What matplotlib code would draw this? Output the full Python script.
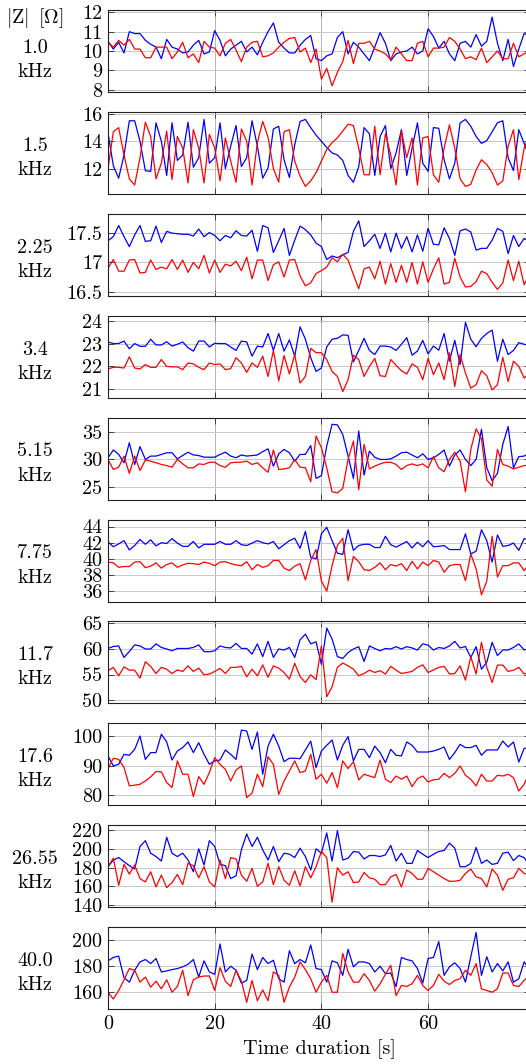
"""Impedance magnitude |Z| over time at ten excitation frequencies (two electrodes)."""
import numpy as np
import matplotlib
matplotlib.use("Agg")
import matplotlib.pyplot as plt

freq_labels = ["1.0", "1.5", "2.25", "3.4", "5.15", "7.75", "11.7", "17.6", "26.55", "40.0"]

blue_1k0 = [10.5, 10.1, 10.45, 9.9, 11.0, 10.9, 10.9, 10.55, 10.35, 10.2,
            9.6, 10.6, 10.2, 10.1, 9.9, 9.95, 10.3, 10.55, 9.85, 9.95,
            11.05, 10.55, 9.75, 10.1, 10.3, 10.5, 9.95, 10.2, 9.8, 10.45,
            11.0, 11.45, 10.45, 10.15, 9.9, 9.9, 10.3, 10.6, 10.8, 9.6,
            9.5, 9.75, 9.85, 10.7, 11.0, 9.85, 10.45, 10.2, 9.85, 9.5,
            10.2, 10.95, 10.4, 9.5, 9.85, 9.95, 10.0, 10.2, 9.85, 10.0,
            11.15, 10.75, 10.15, 10.5, 9.85, 9.5, 10.4, 10.5, 10.2, 10.85,
            10.25, 10.5, 11.75, 10.4, 9.5, 10.6, 9.2, 10.1, 10.9, 10.8]
red_1k0 = [10.45, 10.2, 10.55, 10.3, 10.6, 10.1, 10.1, 9.65, 9.65, 10.2,
           10.2, 10.2, 9.6, 9.95, 10.45, 9.65, 9.85, 9.4, 10.5, 10.2,
           10.15, 9.75, 10.4, 10.6, 10.05, 9.45, 10.2, 10.45, 10.5, 9.7,
           9.75, 9.9, 10.2, 10.45, 10.65, 10.7, 9.95, 10.15, 9.4, 10.1,
           8.55, 9.1, 8.2, 8.9, 9.45, 10.55, 9.35, 10.4, 10.4, 10.5,
           10.1, 10.0, 9.85, 9.55, 10.2, 9.85, 9.5, 9.5, 10.4, 10.5,
           9.7, 10.15, 10.15, 10.2, 10.7, 10.5, 10.1, 9.6, 9.7, 9.55,
           10.15, 9.4, 9.7, 10.0, 9.6, 9.6, 10.4, 9.7, 9.85, 10.0]

blue_1k5 = [14.6, 12.2, 11.3, 13.0, 15.5, 15.5, 14.0, 11.85, 11.8, 15.35,
            14.0, 11.5, 15.35, 12.6, 13.0, 15.4, 12.1, 12.8, 15.6, 12.4,
            12.8, 15.35, 12.0, 13.65, 15.15, 12.15, 12.8, 15.5, 13.65, 11.3,
            12.05, 14.9, 15.1, 12.65, 11.35, 13.75, 15.45, 15.6, 15.0, 14.45,
            14.0, 13.55, 13.15, 13.0, 12.6, 11.5, 11.0, 12.15, 15.0, 14.55,
            11.5, 14.35, 15.15, 12.0, 13.15, 14.85, 11.5, 13.5, 15.35, 12.4,
            11.8, 15.0, 14.95, 12.65, 11.25, 12.4, 15.35, 15.6, 15.1, 14.35,
            13.85, 14.05, 14.7, 15.35, 15.5, 12.8, 11.85, 14.85, 13.85, 12.8]
red_1k5 = [12.0, 14.7, 15.0, 13.0, 11.25, 10.8, 12.8, 15.4, 14.35, 11.25,
           12.4, 14.75, 11.2, 14.35, 13.5, 10.95, 14.85, 13.5, 10.95, 14.5,
           13.5, 11.1, 14.25, 12.55, 11.0, 14.9, 14.0, 10.8, 13.9, 15.45,
           14.3, 12.0, 11.0, 14.7, 14.85, 12.55, 11.45, 10.7, 11.1, 11.7,
           12.55, 13.4, 13.9, 14.25, 14.75, 15.25, 15.15, 13.5, 11.55, 11.55,
           15.1, 11.55, 14.55, 13.0, 10.8, 14.75, 12.8, 14.25, 10.8, 14.25,
           14.35, 11.55, 11.0, 13.5, 15.2, 13.5, 11.25, 10.7, 10.85, 11.9,
           12.65, 12.3, 11.7, 10.8, 11.1, 13.65, 14.85, 11.2, 13.5, 14.5]

blue_2k25 = [17.37, 17.44, 17.63, 17.44, 17.27, 17.47, 17.63, 17.36, 17.37, 17.62,
             17.34, 17.53, 17.5, 17.49, 17.48, 17.48, 17.45, 17.57, 17.44, 17.51,
             17.46, 17.37, 17.46, 17.42, 17.54, 17.46, 17.45, 17.55, 17.19, 17.63,
             17.59, 17.17, 17.37, 17.58, 17.12, 17.38, 17.62, 17.56, 17.47, 17.33,
             17.27, 17.05, 17.11, 17.08, 17.13, 17.17, 17.53, 17.71, 17.27, 17.37,
             17.48, 17.24, 17.5, 17.18, 17.5, 17.24, 17.44, 17.18, 17.47, 17.19,
             17.58, 17.31, 17.3, 17.59, 17.41, 17.12, 17.54, 17.57, 17.52, 17.21,
             17.24, 17.24, 17.38, 17.58, 17.53, 17.15, 17.46, 17.27, 17.41, 17.35]
red_2k25 = [16.9, 17.05, 16.85, 16.85, 17.04, 17.05, 16.82, 16.83, 17.04, 16.88,
            16.92, 16.89, 17.05, 16.88, 17.04, 16.83, 17.0, 16.89, 17.12, 16.82,
            17.04, 16.83, 16.97, 16.94, 17.02, 16.86, 17.09, 16.72, 17.04, 17.04,
            16.69, 16.96, 17.01, 16.75, 17.04, 17.05, 16.77, 16.6, 16.65, 16.81,
            16.86, 16.92, 17.08, 17.01, 17.14, 17.04, 16.79, 16.55, 16.89, 16.92,
            16.72, 17.02, 16.63, 16.98, 16.66, 16.95, 16.66, 17.0, 16.63, 17.01,
            16.66, 16.89, 17.08, 16.63, 16.66, 17.07, 16.75, 16.58, 16.59, 16.67,
            16.85, 16.81, 16.66, 16.54, 16.65, 17.04, 16.69, 17.02, 16.62, 16.8]

blue_3k4 = [23.07, 23.0, 23.0, 23.11, 22.77, 23.0, 22.88, 22.88, 23.19, 22.94,
            22.94, 23.08, 22.89, 22.97, 23.07, 22.82, 22.67, 23.11, 23.11, 22.85,
            23.01, 23.0, 23.0, 22.85, 22.7, 23.11, 23.07, 22.45, 22.89, 22.85,
            23.44, 22.7, 23.44, 22.67, 23.16, 22.45, 23.73, 23.19, 22.38, 21.78,
            21.93, 22.85, 23.19, 23.23, 23.38, 23.36, 22.2, 22.7, 23.23, 22.7,
            22.52, 22.89, 22.89, 22.85, 22.7, 22.97, 23.26, 22.49, 22.67, 23.14,
            22.55, 22.89, 22.71, 23.44, 22.23, 23.14, 22.08, 23.93, 23.19, 22.86,
            23.23, 23.44, 23.59, 22.23, 23.19, 22.52, 22.7, 23.04, 22.97, 22.9]
red_3k4 = [21.89, 21.96, 21.96, 21.93, 22.42, 21.93, 21.89, 22.08, 21.96, 21.96,
           22.3, 22.0, 21.98, 21.98, 21.86, 22.15, 22.11, 21.96, 21.86, 22.15,
           22.08, 22.11, 21.86, 21.9, 22.38, 22.15, 21.74, 22.15, 21.96, 22.45,
           21.56, 22.7, 21.37, 22.48, 21.67, 22.52, 21.27, 21.56, 22.79, 22.6,
           22.6, 22.3, 21.78, 21.56, 20.9, 21.42, 22.49, 22.3, 21.56, 22.0,
           22.35, 21.59, 21.56, 22.3, 22.05, 21.81, 21.67, 22.11, 21.96, 21.42,
           22.35, 21.64, 22.15, 21.42, 22.6, 21.12, 22.52, 21.71, 21.05, 21.2,
           21.81, 21.59, 20.97, 21.2, 22.4, 21.34, 22.23, 22.0, 21.49, 21.7]

blue_5k15 = [30.3, 31.7, 30.9, 29.4, 33.0, 29.1, 32.3, 30.0, 30.6, 30.6,
             30.9, 31.2, 31.2, 30.1, 30.7, 31.3, 30.8, 30.7, 30.4, 30.4,
             30.4, 30.9, 31.3, 30.6, 30.3, 30.8, 30.6, 30.7, 30.8, 31.4,
             31.9, 28.8, 31.0, 31.8, 31.2, 29.7, 30.9, 30.9, 32.5, 26.6,
             27.1, 32.4, 36.3, 36.2, 34.5, 30.6, 26.6, 35.1, 27.2, 31.5,
             30.4, 30.0, 30.0, 30.1, 30.6, 31.2, 31.3, 30.8, 30.3, 31.0,
             30.0, 30.3, 30.9, 31.7, 28.8, 30.8, 31.7, 30.0, 28.9, 30.0,
             35.4, 28.5, 26.2, 27.5, 32.7, 35.9, 28.5, 30.5, 30.6, 31.2]
red_5k15 = [30.0, 28.2, 28.6, 30.6, 27.5, 30.6, 28.0, 29.9, 29.7, 29.4,
            29.1, 28.9, 28.6, 30.0, 29.2, 28.5, 28.5, 29.2, 29.1, 29.5,
            29.5, 28.9, 28.6, 29.4, 29.5, 29.5, 29.7, 29.1, 29.4, 28.5,
            27.7, 31.7, 28.2, 28.3, 28.5, 30.0, 28.6, 28.5, 26.0, 34.2,
            32.1, 28.5, 24.2, 24.0, 24.8, 30.0, 33.3, 24.6, 32.7, 28.3,
            28.8, 29.2, 29.5, 29.5, 29.1, 28.2, 28.9, 29.2, 28.9, 29.2,
            28.5, 30.5, 28.5, 27.8, 30.0, 31.3, 29.7, 24.2, 31.8, 35.5,
            33.7, 26.3, 25.2, 31.8, 29.1, 28.8, 28.3, 28.6, 28.9, 29.0]

blue_7k75 = [42.1, 41.5, 41.85, 42.25, 41.1, 41.65, 42.4, 41.8, 42.35, 41.6,
             42.0, 41.9, 42.5, 41.95, 41.55, 41.55, 42.15, 41.35, 41.8, 41.8,
             41.8, 42.15, 41.8, 41.8, 42.25, 41.75, 41.65, 41.95, 42.25, 42.0,
             41.85, 42.15, 41.25, 41.75, 42.25, 42.55, 41.3, 43.4, 40.2, 40.0,
             43.1, 43.9, 42.25, 40.7, 40.55, 43.6, 41.05, 41.65, 41.8, 41.8,
             41.4, 41.4, 42.8, 41.75, 41.45, 41.8, 42.15, 41.35, 42.05, 41.5,
             42.25, 41.5, 41.55, 41.65, 41.15, 41.15, 41.15, 43.1, 40.6, 40.95,
             43.6, 42.25, 39.6, 42.95, 41.55, 41.65, 41.95, 41.05, 42.5, 42.3]
red_7k75 = [39.6, 39.5, 38.95, 39.05, 39.05, 39.6, 39.65, 38.9, 39.1, 39.5,
            38.85, 39.3, 39.5, 38.95, 39.25, 39.45, 39.4, 39.3, 39.6, 39.45,
            39.15, 39.6, 39.65, 39.4, 39.25, 39.15, 39.65, 38.65, 39.3, 38.95,
            39.15, 39.8, 39.8, 38.85, 38.55, 39.1, 39.4, 37.4, 39.8, 41.15,
            37.25, 36.0, 39.15, 41.65, 42.55, 37.3, 40.3, 39.65, 38.65, 38.55,
            38.95, 39.5, 38.65, 39.3, 39.1, 39.4, 38.55, 39.7, 38.75, 39.6,
            39.15, 39.8, 39.6, 38.35, 39.15, 39.3, 39.3, 37.3, 40.6, 38.75,
            35.55, 37.25, 42.8, 37.75, 39.15, 39.15, 39.5, 39.5, 38.55, 39.4]

blue_11k7 = [60.1, 60.5, 60.6, 58.35, 59.5, 60.8, 60.6, 60.0, 60.0, 61.0,
             60.3, 60.0, 59.65, 60.1, 60.1, 60.1, 60.3, 60.8, 59.5, 59.45,
             59.65, 60.6, 60.3, 60.2, 61.1, 60.1, 60.1, 59.0, 61.0, 58.5,
             61.5, 58.35, 60.0, 59.8, 60.3, 58.35, 61.8, 62.9, 61.0, 61.4,
             57.0, 64.1, 61.95, 58.5, 58.15, 59.3, 60.0, 60.45, 57.55, 60.6,
             60.1, 59.65, 60.1, 60.0, 60.45, 60.0, 60.45, 60.2, 59.8, 61.0,
             60.75, 59.8, 60.3, 60.1, 60.6, 61.5, 60.2, 60.5, 58.35, 60.45,
             56.05, 57.4, 61.3, 58.7, 59.8, 59.8, 60.3, 61.0, 59.8, 60.2]
red_11k7 = [55.75, 56.4, 54.75, 56.5, 55.85, 55.85, 54.3, 57.5, 56.6, 55.2,
            56.4, 56.05, 55.2, 55.9, 55.6, 56.7, 55.6, 56.25, 54.95, 55.1,
            55.6, 56.2, 55.2, 56.4, 56.4, 56.6, 54.55, 56.05, 54.75, 56.9,
            54.45, 56.7, 56.25, 55.4, 54.1, 57.2, 54.6, 53.45, 54.95, 54.0,
            60.6, 50.65, 52.6, 56.4, 57.25, 56.7, 56.05, 54.75, 55.2, 55.85,
            55.4, 55.75, 55.1, 56.6, 55.85, 55.2, 55.4, 55.6, 56.4, 56.9,
            55.4, 55.9, 56.4, 56.6, 55.1, 55.2, 56.7, 53.9, 58.5, 55.1,
            61.3, 56.4, 53.45, 56.85, 56.85, 55.6, 55.85, 56.4, 55.1, 55.5]

blue_17k6 = [93.3, 89.9, 90.45, 93.8, 93.5, 95.5, 100.0, 92.1, 94.4, 94.4,
             100.6, 98.0, 91.9, 94.95, 96.1, 98.0, 94.4, 97.75, 93.8, 90.45,
             91.6, 91.9, 95.3, 93.8, 92.1, 102.0, 101.7, 95.5, 101.35, 87.1,
             96.6, 100.6, 96.6, 91.35, 92.5, 92.5, 92.35, 95.3, 98.3, 89.35,
             94.95, 96.85, 98.65, 91.9, 96.85, 99.8, 91.6, 95.5, 95.5, 92.7,
             96.6, 94.4, 91.0, 95.5, 93.5, 93.3, 98.0, 96.85, 94.6, 94.6,
             94.6, 94.95, 95.5, 96.3, 92.1, 94.4, 97.2, 96.1, 96.1, 96.85,
             93.5, 95.3, 95.3, 95.3, 98.3, 96.3, 98.0, 91.2, 95.85, 96.0]
red_17k6 = [89.0, 92.5, 92.1, 89.35, 83.15, 83.4, 83.7, 84.8, 86.2, 88.0,
            87.9, 84.3, 82.6, 91.6, 87.1, 87.1, 79.55, 86.3, 83.7, 87.65,
            92.7, 90.45, 88.75, 84.8, 88.5, 89.9, 79.2, 80.7, 87.1, 82.9,
            93.0, 90.45, 80.3, 84.8, 88.2, 91.6, 87.65, 88.2, 93.8, 85.4,
            87.1, 84.05, 87.65, 82.6, 91.6, 89.0, 91.35, 85.2, 87.1, 86.5,
            85.95, 91.9, 85.4, 84.3, 86.5, 85.4, 86.5, 82.9, 85.6, 86.5,
            84.5, 85.2, 85.4, 87.4, 85.95, 87.4, 89.9, 86.75, 85.4, 83.15,
            87.1, 84.8, 84.8, 86.75, 86.5, 87.1, 85.95, 81.45, 83.7, 87.65]

blue_26k55 = [180.9, 188.1, 190.7, 186.3, 182.0, 178.4, 202.6, 208.8, 195.4, 191.8,
              187.0, 212.4, 195.4, 191.8, 195.4, 188.1, 175.5, 200.1, 182.7, 208.8,
              202.6, 183.4, 182.0, 168.2, 171.1, 199.0, 216.0, 202.6, 212.4, 199.0,
              188.1, 202.6, 186.3, 195.4, 194.3, 190.7, 200.8, 191.8, 177.3, 200.1,
              195.4, 217.1, 187.0, 219.6, 188.1, 190.0, 197.2, 196.5, 189.2, 192.9,
              192.9, 191.8, 193.6, 203.7, 187.0, 195.4, 184.5, 184.5, 198.3, 194.3,
              190.7, 194.3, 197.2, 198.3, 206.2, 200.8, 180.9, 180.9, 184.5, 201.5,
              184.5, 188.1, 183.4, 184.5, 195.4, 196.5, 187.4, 192.9, 190.7, 182.0]
red_26k55 = [180.9, 190.0, 161.0, 183.4, 172.9, 182.7, 168.2, 164.6, 175.5, 159.2,
             171.9, 158.5, 163.9, 172.6, 161.7, 184.5, 182.0, 169.0, 180.9, 164.6,
             159.2, 188.1, 168.2, 190.7, 189.2, 171.9, 165.3, 179.1, 159.9, 164.6,
             184.5, 161.7, 180.9, 166.4, 161.0, 176.6, 160.3, 180.9, 169.0, 180.9,
             197.2, 190.7, 142.9, 179.8, 171.9, 175.5, 163.9, 164.6, 174.8, 169.0,
             167.5, 161.7, 161.7, 170.0, 172.6, 159.2, 177.3, 173.7, 167.5, 167.5,
             179.1, 175.5, 171.9, 168.2, 165.3, 165.3, 166.4, 173.7, 178.4, 170.0,
             168.2, 159.2, 178.4, 171.9, 155.6, 167.5, 169.0, 179.1, 173.7, 171.9]

blue_40k0 = [184.0, 186.6, 187.6, 171.1, 167.7, 176.8, 183.2, 185.0, 181.9, 185.8,
             175.5, 176.3, 177.3, 178.1, 179.4, 181.4, 185.0, 171.6, 184.0, 175.5,
             173.7, 196.9, 175.5, 179.9, 176.8, 167.0, 169.0, 189.2, 177.3, 186.6,
             181.9, 184.5, 170.3, 167.7, 191.7, 181.9, 185.0, 182.5, 196.1, 178.1,
             177.3, 167.7, 184.0, 182.5, 172.9, 192.8, 179.4, 183.2, 183.2, 181.9,
             175.5, 179.9, 174.2, 174.7, 164.4, 186.6, 185.0, 184.0, 178.1, 167.0,
             185.8, 186.6, 198.7, 172.9, 179.4, 182.5, 178.1, 167.7, 187.1, 205.7,
             172.9, 187.1, 175.5, 181.9, 176.3, 183.2, 167.7, 170.3, 183.2, 177.3]
red_40k0 = [160.0, 154.8, 161.3, 169.5, 178.1, 176.8, 167.7, 171.6, 163.9, 168.5,
            162.6, 169.5, 160.0, 164.4, 176.8, 157.4, 169.5, 171.6, 172.4, 172.4,
            161.3, 178.8, 168.3, 164.4, 176.8, 168.5, 152.3, 169.0, 153.5, 161.8,
            153.5, 175.5, 172.9, 152.3, 163.9, 171.6, 183.2, 177.3, 170.3, 160.0,
            167.7, 172.9, 160.0, 160.0, 189.7, 175.5, 167.7, 167.7, 174.2, 169.0,
            160.8, 166.5, 173.7, 180.6, 157.4, 165.2, 164.4, 166.5, 172.9, 165.2,
            161.3, 165.2, 173.7, 168.5, 165.9, 169.0, 170.3, 176.8, 172.9, 181.9,
            162.6, 161.3, 160.0, 162.6, 174.7, 174.7, 165.2, 164.4, 169.0, 172.9]

blue_series = [blue_1k0, blue_1k5, blue_2k25, blue_3k4, blue_5k15,
               blue_7k75, blue_11k7, blue_17k6, blue_26k55, blue_40k0]
red_series = [red_1k0, red_1k5, red_2k25, red_3k4, red_5k15,
              red_7k75, red_11k7, red_17k6, red_26k55, red_40k0]

ylims = [(7.88, 12.12), (10.15, 16.15), (16.43, 17.83), (20.63, 24.22), (22.8, 37.5),
         (34.72, 44.87), (49.35, 65.4), (76.6, 104.3), (137.5, 225.4), (147.1, 209.8)]
yticks = [[8, 9, 10, 11, 12], [12, 14, 16], [16.5, 17, 17.5], [21, 22, 23, 24], [25, 30, 35],
          [36, 38, 40, 42, 44], [50, 55, 60, 65], [80, 90, 100],
          [140, 160, 180, 200, 220], [160, 180, 200]]
ytick_labels = [["8", "9", "10", "11", "12"], ["12", "14", "16"], ["16.5", "17", "17.5"],
                ["21", "22", "23", "24"], ["25", "30", "35"], ["36", "38", "40", "42", "44"],
                ["50", "55", "60", "65"], ["80", "90", "100"],
                ["140", "160", "180", "200", "220"], ["160", "180", "200"]]
xticks = [0, 20, 40, 60]

FS = 14.5
plt.rcParams.update({
    "font.family": "serif",
    "font.serif": ["cmr10"],
    "mathtext.fontset": "cm",
    "axes.formatter.use_mathtext": True,
    "font.size": FS,
})

W, H = 526, 1064


def main():
    fig = plt.figure(figsize=(W / 100, H / 100), dpi=100)
    left, right = 108, 530
    top0, step, height = 10, 101.9, 82
    axes = []
    for k in range(10):
        top = top0 + k * step
        ax = fig.add_axes([left / W, 1 - (top + height) / H, (right - left) / W, height / H])
        axes.append(ax)
        b = blue_series[k]
        r = red_series[k]
        ax.plot(np.arange(len(b)), b, color="#0000ff", lw=0.9)
        ax.plot(np.arange(len(r)), r, color="#ff0000", lw=0.9)
        ax.set_xlim(0, 79.1)
        ax.set_ylim(*ylims[k])
        ax.set_yticks(yticks[k])
        ax.set_yticklabels(ytick_labels[k])
        ax.set_xticks(xticks)
        ax.grid(True, axis="y", color="#c8c8c8", lw=0.7)
        ax.grid(True, axis="x", color="#b4b4b4", lw=0.7)
        ax.set_axisbelow(True)
        ax.tick_params(direction="in", length=4, width=0.7, color="#404040",
                       top=True, right=True, labelsize=FS, pad=4)
        for s in ax.spines.values():
            s.set_color("#202020")
            s.set_linewidth(0.8)
        if k < 9:
            ax.set_xticklabels([])
        mid = 1 - (top + height / 2) / H
        off = 9 if k == 0 else 5
        fig.text(35 / W, mid - off / H, freq_labels[k] + "\nkHz", ha="center", va="center",
                 fontsize=FS, linespacing=1.45)
    axes[-1].set_xticklabels([str(t) for t in xticks])
    axes[-1].set_xlabel("Time duration [s]", fontsize=FS, labelpad=5)
    fig.text(35 / W, 1 - 18 / H, r"$|\mathrm{Z}|\ \,[\Omega]$", ha="center", va="center", fontsize=FS)
    fig.savefig("out.png", dpi=100)


if __name__ == "__main__":
    main()
